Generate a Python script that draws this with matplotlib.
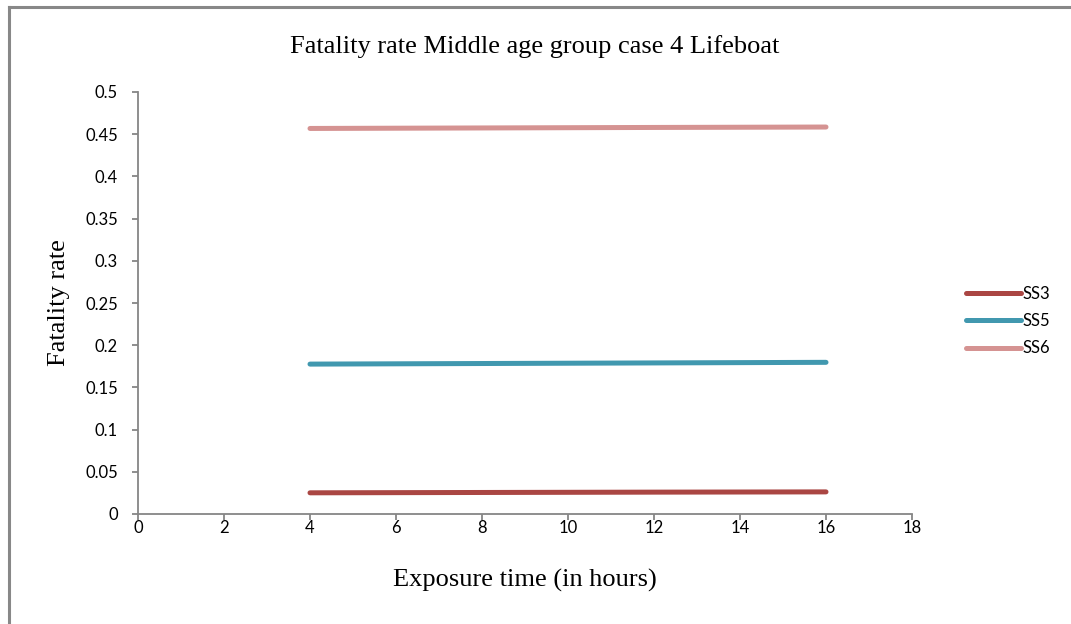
import matplotlib
matplotlib.use("Agg")
import matplotlib.pyplot as plt
from matplotlib.lines import Line2D

x_hours = [4, 8, 12, 16]
ss3 = [0.0251, 0.0255, 0.0259, 0.0262]
ss5 = [0.1776, 0.1783, 0.1790, 0.1797]
ss6 = [0.4568, 0.4574, 0.4580, 0.4585]
series_names = ["SS3", "SS5", "SS6"]
colors = ["#AA4643", "#4198AF", "#D59392"]
xticks = [0, 2, 4, 6, 8, 10, 12, 14, 16, 18]
yticks = [0, 0.05, 0.1, 0.15, 0.2, 0.25, 0.3, 0.35, 0.4, 0.45, 0.5]
ytick_labels = ["0", "0.05", "0.1", "0.15", "0.2", "0.25", "0.3", "0.35", "0.4", "0.45", "0.5"]

W, H = 1071, 624
fig = plt.figure(figsize=(W/100, H/100), dpi=100)
ax = fig.add_axes([138/W, 1-514/H, (912-138)/W, (514-92)/H])

for vals, name, c in zip([ss3, ss5, ss6], series_names, colors):
    ax.plot(x_hours, vals, color=c, lw=3.6, solid_capstyle="round", label=name)

ax.set_xlim(0, 18)
ax.set_ylim(0, 0.5)
ax.set_xticks(xticks)
ax.set_xticklabels([str(t) for t in xticks])
ax.set_yticks(yticks)
ax.set_yticklabels(ytick_labels)
for s in ["top", "right"]:
    ax.spines[s].set_visible(False)
for s in ["left", "bottom"]:
    ax.spines[s].set_color("#868686")
    ax.spines[s].set_linewidth(1.3)
ax.tick_params(axis="both", colors="#868686", direction="out", length=4, width=1.3,
               labelcolor="black", labelsize=12)
ax.tick_params(axis="y", pad=10.5)
ax.tick_params(axis="x", pad=0.5)
for lab in ax.get_xticklabels() + ax.get_yticklabels():
    lab.set_family("Lato")

fig.text(535/W, 1-47/H, "Fatality rate Middle age group case 4 Lifeboat",
         family="Liberation Serif", fontsize=19, ha="center", va="center")
fig.text(525/W, 1-580/H, "Exposure time (in hours)",
         family="Liberation Serif", fontsize=19, ha="center", va="center")
fig.text(59/W, 1-303/H, "Fatality rate", family="Liberation Serif", fontsize=19,
         ha="center", va="center", rotation=90)

leg = ax.legend(loc="center left", bbox_to_anchor=((966-138)/(912-138), (514-321)/422),
                frameon=False, prop={"family": "Lato", "size": 12}, handlelength=3.3,
                handletextpad=0.1, labelspacing=0.68, borderaxespad=0, borderpad=0)

# outer frame (left and top edges)
fig.add_artist(Line2D([8.5/W, 8.5/W], [0, 1-6.5/H], color="#888888", lw=2.2,
                      transform=fig.transFigure))
fig.add_artist(Line2D([8.5/W, 1], [1-6.5/H, 1-6.5/H], color="#888888", lw=2.2,
                      transform=fig.transFigure))

fig.savefig("out.png", dpi=100)
